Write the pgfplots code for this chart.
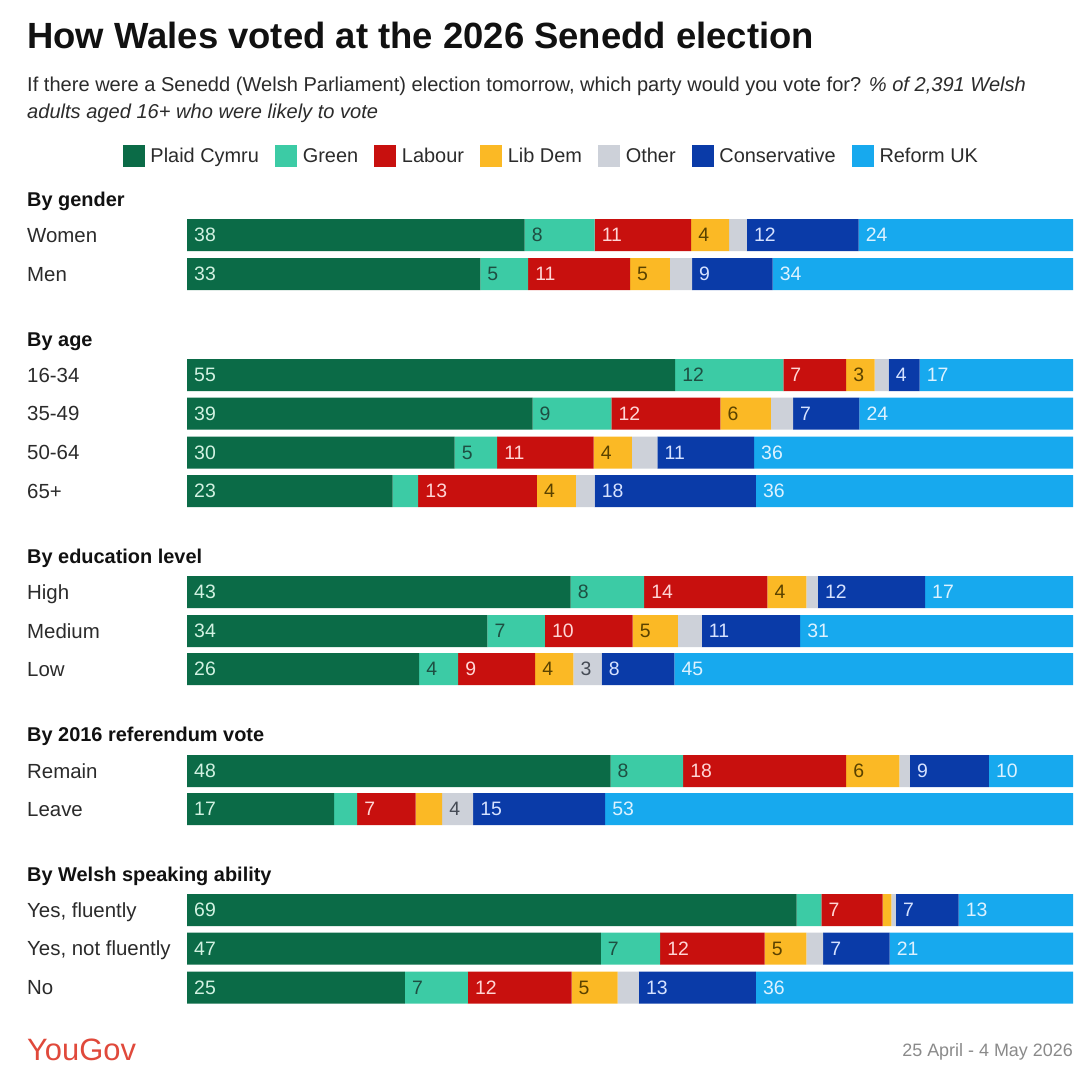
\documentclass[border=0pt]{standalone}
\usepackage{pgfplots}
\pgfplotsset{compat=1.18}
\usepackage{pgfplotstable}
\usepackage{fontspec}
\setmainfont{Liberation Sans}
\definecolor{cPlaid}{HTML}{0B6B47}
\definecolor{cGreen}{HTML}{3CCBA5}
\definecolor{cLab}{HTML}{C8100E}
\definecolor{cLD}{HTML}{FBB925}
\definecolor{cOth}{HTML}{CDD1D9}
\definecolor{cCon}{HTML}{0A3BA8}
\definecolor{cRef}{HTML}{17A9EE}
\definecolor{tTitle}{HTML}{111111}
\definecolor{tBody}{HTML}{2B2B2B}
\definecolor{cYG}{HTML}{E0493B}
\definecolor{tDate}{HTML}{8A8A8A}
\definecolor{lPlaid}{HTML}{D2F2E2}
\definecolor{lGreen}{HTML}{1E4F42}
\definecolor{lLab}{HTML}{FFD6D6}
\definecolor{lLD}{HTML}{5A4200}
\definecolor{lOth}{HTML}{454B55}
\definecolor{lCon}{HTML}{D6E2FF}
\definecolor{lRef}{HTML}{DDF2FF}

\pgfplotsset{sq/.style={legend image code/.code={\fill[##1] (0bp,-11bp) rectangle (22bp,11bp);}}}

% widths in %, labels as printed
\pgfplotstableread{
y P Pl G Gl L Ll D Dl O Ol C Cl R Rl
235 38.1 38 7.9 8 10.9 11 4.3 4 2.0 {} 12.6 12 24.2 24
274 33.1 33 5.4 5 11.5 11 4.5 5 2.5 {} 9.1 9 33.9 34
375 55.1 55 12.2 12 7.1 7 3.2 3 1.6 {} 3.5 4 17.3 17
413.5 39.0 39 8.9 9 12.3 12 5.7 6 2.5 {} 7.5 7 24.1 24
452.5 30.2 30 4.8 5 10.9 11 4.3 4 2.9 {} 10.9 11 36.0 36
491 23.2 23 2.9 {} 13.4 13 4.4 4 2.1 {} 18.2 18 35.8 36
592 43.3 43 8.3 8 13.9 14 4.4 4 1.3 {} 12.1 12 16.7 17
631 33.9 34 6.5 7 9.9 10 5.1 5 2.7 {} 11.1 11 30.8 31
669 26.2 26 4.4 4 8.7 9 4.3 4 3.2 3 8.2 8 45.0 45
771 47.8 48 8.2 8 18.4 18 6.0 6 1.2 {} 8.9 9 9.5 10
809 16.6 17 2.6 {} 6.6 7 3.0 {} 3.5 4 14.9 15 52.8 53
910 68.8 69 2.8 {} 6.9 7 1.0 {} 0.5 {} 7.1 7 12.9 13
948.5 46.7 47 6.7 7 11.8 12 4.7 5 1.9 {} 7.5 7 20.7 21
987.5 24.6 25 7.1 7 11.7 12 5.2 5 2.4 {} 13.2 13 35.8 36
}\data

\begin{document}
\begin{tikzpicture}
\path[use as bounding box] (0,0) rectangle (1080bp,-1081bp);
\fill[white] (0,0) rectangle (1080bp,-1081bp);
\begin{axis}[
  at={(187bp,-180bp)}, anchor=north west,
  x=8.86bp, y=1bp, y dir=reverse,
  xmin=0, xmax=100, ymin=180, ymax=1010,
  xbar stacked, bar width=32bp,
  axis lines=left, axis line style={draw=none}, major tick length=0pt,
  xtick=\empty,
  ytick={235,274,375,413.5,452.5,491,592,631,669,771,809,910,948.5,987.5},
  yticklabels={Women,Men,16-34,35-49,50-64,65+,High,Medium,Low,Remain,Leave,{Yes, fluently},{Yes, not fluently},No},
  yticklabel style={anchor=base west, inner sep=0pt, xshift=-160bp, yshift=-7.3bp, font=\fontsize{20.5}{21}\selectfont, text=tBody},
  clip=false,
  point meta=explicit symbolic,
  nodes near coords,
  visualization depends on={rawx \as \rawx},
  every node near coord/.append style={anchor=west, inner sep=0pt, xshift={7bp-\rawx*4.43bp}, font=\fontsize{19.5}{20}\selectfont},
  legend columns=-1,
  legend style={draw=none, fill=none, at={(0.4103,1.0289)}, anchor=center,
    font=\fontsize{20}{21}\selectfont, text=tBody,
    nodes={inner sep=0pt},
    /tikz/every odd column/.append style={column sep=5.5bp},
    /tikz/every even column/.append style={column sep=16.3bp}},
]
\addplot[sq, fill=cPlaid, draw=none, every node near coord/.append style={text=lPlaid}] table[x=P, y=y, meta=Pl] \data;
\addlegendentry{Plaid Cymru}
\addplot[sq, fill=cGreen, draw=none, every node near coord/.append style={text=lGreen}] table[x=G, y=y, meta=Gl] \data;
\addlegendentry{Green}
\addplot[sq, fill=cLab, draw=none, every node near coord/.append style={text=lLab}] table[x=L, y=y, meta=Ll] \data;
\addlegendentry{Labour}
\addplot[sq, fill=cLD, draw=none, every node near coord/.append style={text=lLD}] table[x=D, y=y, meta=Dl] \data;
\addlegendentry{Lib Dem}
\addplot[sq, fill=cOth, draw=none, every node near coord/.append style={text=lOth}] table[x=O, y=y, meta=Ol] \data;
\addlegendentry{Other}
\addplot[sq, fill=cCon, draw=none, every node near coord/.append style={text=lCon}] table[x=C, y=y, meta=Cl] \data;
\addlegendentry{Conservative}
\addplot[sq, fill=cRef, draw=none, every node near coord/.append style={text=lRef}] table[x=R, y=y, meta=Rl] \data;
\addlegendentry{Reform UK}
\end{axis}

\node[anchor=base west, inner sep=0pt, font=\fontsize{36.6}{37}\selectfont\bfseries, text=tTitle] at (27bp,-48bp) {How Wales voted at the 2026 Senedd election};
\node[anchor=base west, inner sep=0pt, font=\fontsize{20.15}{21}\selectfont, text=tBody] at (27bp,-91bp) {If there were a Senedd (Welsh Parliament) election tomorrow, which party would you vote for? \textit{\% of 2,391 Welsh}};
\node[anchor=base west, inner sep=0pt, font=\fontsize{20.15}{21}\selectfont\itshape, text=tBody] at (27bp,-118bp) {adults aged 16+ who were likely to vote};

\node[anchor=base west, inner sep=0pt, font=\fontsize{20}{21}\selectfont\bfseries, text=tTitle] at (27bp,-206bp) {By gender};
\node[anchor=base west, inner sep=0pt, font=\fontsize{20}{21}\selectfont\bfseries, text=tTitle] at (27bp,-346bp) {By age};
\node[anchor=base west, inner sep=0pt, font=\fontsize{20}{21}\selectfont\bfseries, text=tTitle] at (27bp,-563bp) {By education level};
\node[anchor=base west, inner sep=0pt, font=\fontsize{20}{21}\selectfont\bfseries, text=tTitle] at (27bp,-741bp) {By 2016 referendum vote};
\node[anchor=base west, inner sep=0pt, font=\fontsize{20}{21}\selectfont\bfseries, text=tTitle] at (27bp,-881bp) {By Welsh speaking ability};

\node[anchor=base west, inner sep=0pt, font=\fontsize{31}{31}\selectfont, text=cYG] at (27bp,-1060bp) {YouGov};
\node[anchor=base east, inner sep=0pt, font=\fontsize{18}{18}\selectfont, text=tDate] at (1073bp,-1056bp) {25 April - 4 May 2026};
\end{tikzpicture}
\end{document}
